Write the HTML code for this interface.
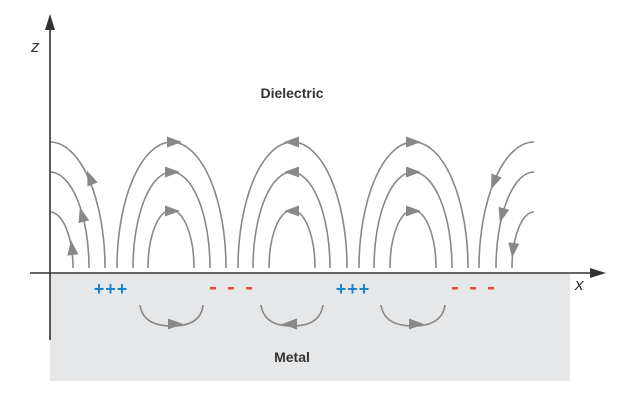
<!DOCTYPE html>
<html><head><meta charset="utf-8"><style>body{margin:0;background:#fff}svg{display:block}</style></head>
<body>
<svg width="626" height="403" viewBox="0 0 626 403" xmlns="http://www.w3.org/2000/svg">
<defs>
<polygon id="ar" points="8,0 -7,-5.5 -7,5.5" fill="#888"/>
</defs>
<rect x="50" y="273" width="520" height="108" fill="#e6e7e9"/>
<g fill="none" stroke="#888" stroke-width="1.6">
<path d="M117 268 A54.5 126 0 0 1 226 268"/>
<path d="M133 268 A38.5 96 0 0 1 210 268"/>
<path d="M148 268 A23 58 0 0 1 194 268"/>
<path d="M238 268 A54.5 126 0 0 1 347 268"/>
<path d="M253 268 A38.5 96 0 0 1 330 268"/>
<path d="M269 268 A23 58 0 0 1 315 268"/>
<path d="M359 268 A54.5 126 0 0 1 468 268"/>
<path d="M374 268 A39 96 0 0 1 452 268"/>
<path d="M390 268 A23 58 0 0 1 436 268"/>
<path d="M50 142 A55 126 0 0 1 105 268"/>
<path d="M50 172 A39 96 0 0 1 89 268"/>
<path d="M50 212 A23 56 0 0 1 73 268"/>
<path d="M534 142 A55 126 0 0 0 479 268"/>
<path d="M534 172 A38 96 0 0 0 496 268"/>
<path d="M534 212 A22 56 0 0 0 512 268"/>
<path d="M140 305 Q143 326 172 326 Q201 326 203 305"/>
<path d="M261 305 Q264 326 292 326 Q320 326 323 305"/>
<path d="M381 305 Q384 326 413 326 Q442 326 445 305"/>
</g>
<g>
<use href="#ar" transform="translate(174,142)"/>
<use href="#ar" transform="translate(172,172)"/>
<use href="#ar" transform="translate(172,211)"/>
<use href="#ar" transform="translate(292,142) rotate(180)"/>
<use href="#ar" transform="translate(292,172) rotate(180)"/>
<use href="#ar" transform="translate(292,211) rotate(180)"/>
<use href="#ar" transform="translate(413,142)"/>
<use href="#ar" transform="translate(413,172)"/>
<use href="#ar" transform="translate(413,211)"/>
<use href="#ar" transform="translate(90,178) rotate(-112)"/>
<use href="#ar" transform="translate(82,215) rotate(-105)"/>
<use href="#ar" transform="translate(72,248) rotate(-97)"/>
<use href="#ar" transform="translate(494,182) rotate(112)"/>
<use href="#ar" transform="translate(502,215) rotate(105)"/>
<use href="#ar" transform="translate(513,250) rotate(97)"/>
<use href="#ar" transform="translate(175,324)"/>
<use href="#ar" transform="translate(290,324) rotate(180)"/>
<use href="#ar" transform="translate(416,324)"/>
</g>
<g stroke="#333" stroke-width="1.6">
<line x1="30" y1="273" x2="598" y2="273"/>
<line x1="50" y1="340" x2="50" y2="26"/>
</g>
<polygon points="606,273 590,268 590,278" fill="#333"/>
<polygon points="50,14 45,30 55,30" fill="#333"/>
<g font-family="Liberation Sans, sans-serif">
<text x="31" y="52" font-size="17" font-style="italic" fill="#333">z</text>
<text x="575" y="290" font-size="17" font-style="italic" fill="#333">x</text>
<text x="292" y="98" font-size="14" font-weight="bold" fill="#333" text-anchor="middle">Dielectric</text>
<text x="292" y="362" font-size="14" font-weight="bold" fill="#333" text-anchor="middle">Metal</text>
<text x="111" y="295" font-size="18" font-weight="bold" fill="#1a82c8" text-anchor="middle" letter-spacing="1">+++</text>
<text x="353" y="295" font-size="18" font-weight="bold" fill="#1a82c8" text-anchor="middle" letter-spacing="1">+++</text>
</g>
<g fill="#e8493f">
<rect x="210" y="287" width="6" height="2.5"/><rect x="228" y="287" width="6" height="2.5"/><rect x="246" y="287" width="6" height="2.5"/>
<rect x="452" y="287" width="6" height="2.5"/><rect x="470" y="287" width="6" height="2.5"/><rect x="488" y="287" width="6" height="2.5"/>
</g>
</svg>
</body></html>
